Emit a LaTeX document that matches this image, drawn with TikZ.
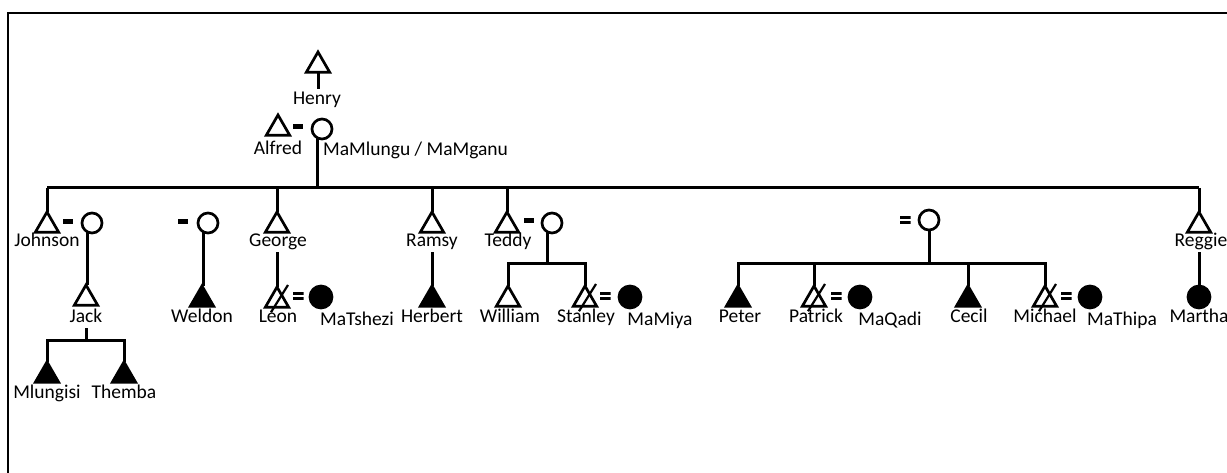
\documentclass[tikz,border=0pt]{standalone}
\usepackage{fontspec}
\setmainfont{Carlito}
\usetikzlibrary{shapes.geometric,calc}
\begin{document}
\begin{tikzpicture}[x=1pt,y=-1pt,
  male/.style={regular polygon, regular polygon sides=3, minimum size=27pt, inner sep=0pt, outer sep=0pt, draw, line width=2.7pt, fill=white, anchor=north},
  malef/.style={male, fill=black},
  fem/.style={circle, minimum size=20pt, inner sep=0pt, outer sep=0pt, draw, line width=2.7pt, fill=white},
  femf/.style={fem, fill=black, minimum size=22pt},
  lab/.style={font=\fontsize{19.5}{22}\selectfont, inner sep=1pt, text height=15pt, text depth=4pt, anchor=base},
  dashmk/.style={rectangle, fill=black, minimum width=10pt, minimum height=5pt, inner sep=0pt, outer sep=0pt},
  eqmk/.style={rectangle, minimum width=11pt, minimum height=8.5pt, inner sep=0pt, outer sep=0pt,
    path picture={\fill (path picture bounding box.north west) rectangle ([yshift=-3pt]path picture bounding box.north east);
                  \fill ([yshift=3pt]path picture bounding box.south west) rectangle (path picture bounding box.south east);}},
  link/.style={line width=3pt},
  slash/.style={line width=2.2pt}
]
\useasboundingbox (0,0) rectangle (1227,473);
% frame
\coordinate (fbl) at (8,473);
\coordinate (ftl) at (8,13);
\coordinate (ftr) at (1227,13);
\draw[line width=2.2pt] (fbl) -- (ftl) -- (ftr);

% generation 0
\node[male] (henry) at (318,52) {};
\node[lab] (henryL) at (317,105) {Henry};
\node[male] (alfred) at (278,115) {};
\node[dashmk] (alfD) at (298,127) {};
\node[fem] (mamlungu) at (322,129) {};
\node[lab] (alfredL) at (278,155) {Alfred};
\node[lab, anchor=base west] (mamlunguL) at (322,156) {MaMlungu / MaMganu};

% generation 1
\coordinate (bus) at (316,188);
\node[male] (johnson) at (47,212) {};
\node[dashmk] (johD) at (68,222) {};
\node[fem] (jw) at (92,223) {};
\node[lab] (johnsonL) at (47,247) {Johnson};

\node[dashmk] (welD) at (183,222) {};
\node[fem] (ww) at (208,223) {};

\node[male] (george) at (277,212) {};
\node[lab] (georgeL) at (278,247) {George};

\node[male] (ramsy) at (432,212) {};
\node[lab] (ramsyL) at (432,247) {Ramsy};

\node[male] (teddy) at (507,212) {};
\node[dashmk] (tedD) at (529,221) {};
\node[fem] (tw) at (552,223) {};
\node[lab] (teddyL) at (508,247) {Teddy};

\node[eqmk] (bigE) at (905,220) {};
\node[fem] (bw) at (929,220) {};

\node[male] (reggie) at (1199,212) {};
\node[lab] (reggieL) at (1201,247) {Reggie};

% generation 2
\node[male] (jack) at (86,285) {};
\node[lab] (jackL) at (86,323) {Jack};
\node[malef] (weldon) at (202,286) {};
\node[lab] (weldonL) at (202,323) {Weldon};
\node[male] (leon) at (277,287) {};
\node[eqmk] (leonE) at (298,296) {};
\node[femf] (matshezi) at (321,297) {};
\node[lab] (leonL) at (278,323) {Leon};
\node[lab] (matsheziL) at (357,325) {MaTshezi};
\node[malef] (herbert) at (432,286) {};
\node[lab] (herbertL) at (432,323) {Herbert};
\coordinate (tbar) at (546,264);
\node[male] (william) at (508,286) {};
\node[lab] (williamL) at (510,323) {William};
\node[male] (stanley) at (585,286) {};
\node[eqmk] (stanE) at (605,296) {};
\node[femf] (mamiya) at (630,297) {};
\node[lab] (stanleyL) at (586,323) {Stanley};
\node[lab] (mamiyaL) at (660,326) {MaMiya};
\coordinate (bbar) at (929,264);
\node[malef] (peter) at (738,286) {};
\node[lab] (peterL) at (740,323) {Peter};
\node[male] (patrick) at (814,286) {};
\node[eqmk] (patE) at (836,296) {};
\node[femf] (maqadi) at (860,297) {};
\node[lab] (patrickL) at (816,323) {Patrick};
\node[lab] (maqadiL) at (890,325) {MaQadi};
\node[malef] (cecil) at (968,286) {};
\node[lab] (cecilL) at (969,323) {Cecil};
\node[male] (michael) at (1045,286) {};
\node[eqmk] (micE) at (1066,296) {};
\node[femf] (mathipa) at (1090,297) {};
\node[lab] (michaelL) at (1045,323) {Michael};
\node[lab] (mathipaL) at (1122,326) {MaThipa};
\node[femf] (martha) at (1199,297) {};
\node[lab] (marthaL) at (1199,323) {Martha};

% generation 3
\coordinate (jbar) at (86,340);
\node[malef] (mlungisi) at (47,362) {};
\node[lab] (mlungisiL) at (47,398) {Mlungisi};
\node[malef] (themba) at (124,362) {};
\node[lab] (thembaL) at (124,398) {Themba};

% connectors
\draw[link] (henry.south) -- (henry.south |- henryL.north);
\draw[link] (mamlungu.-120) -- (mamlungu.-120 |- bus);
\draw[link] (johnson.north |- bus) -- (reggie.north |- bus);
\foreach \c in {johnson,george,ramsy,teddy,reggie}
  \draw[link] (\c.north |- bus) -- (\c.north);
\draw[link] (jw.-120) -- (jw.-120 |- jack.north);
\draw[link] (ww.-120) -- (ww.-120 |- weldon.north);
\draw[link] (leon.north |- georgeL.south) -- (leon.north);
\draw[link] (herbert.north |- ramsyL.south) -- (herbert.north);
\draw[link] (martha.north |- reggieL.south) -- (martha.north);
\draw[link] (tw.-120) -- (tw.-120 |- tbar);
\draw[link] (william.north) -- (william.north |- tbar) -- (stanley.north |- tbar) -- (stanley.north);
\draw[link] (bw.south) -- (bw.south |- bbar);
\draw[link] (peter.north) -- (peter.north |- bbar) -- (michael.north |- bbar) -- (michael.north);
\draw[link] (patrick.north |- bbar) -- (patrick.north);
\draw[link] (cecil.north |- bbar) -- (cecil.north);
\draw[link] (jack.north |- jackL.south) -- (jack.north |- jbar);
\draw[link] (mlungisi.north) -- (mlungisi.north |- jbar) -- (themba.north |- jbar) -- (themba.north);

% deceased slashes
\foreach \c in {leon,stanley,patrick,michael}
  \draw[slash] ($(\c.south)+(-6,5)$) -- ($(\c.north)+(11,-2)$);
\end{tikzpicture}
\end{document}
